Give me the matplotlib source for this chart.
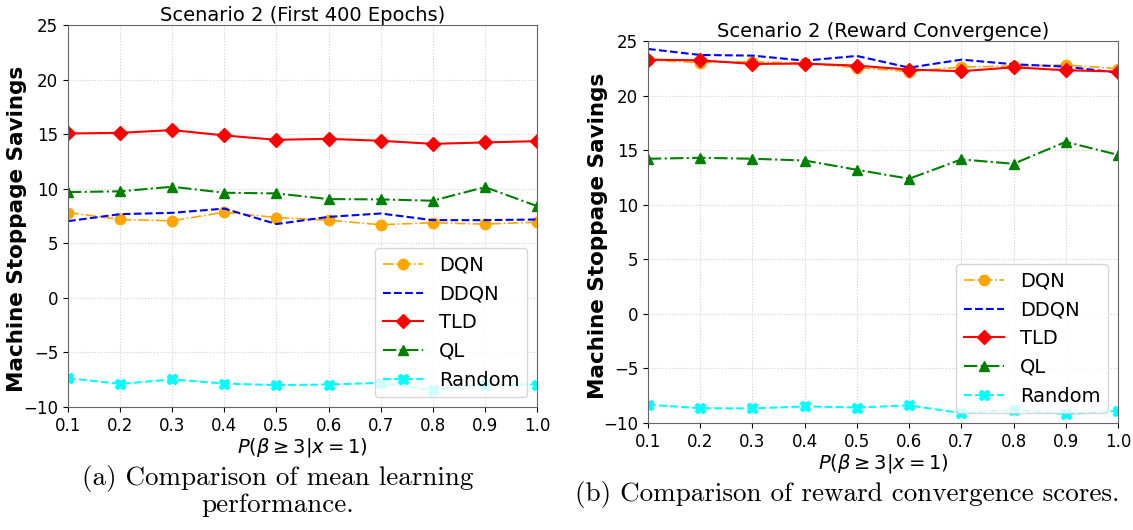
import matplotlib
matplotlib.use("Agg")
import matplotlib.pyplot as plt
import numpy as np

p_vals = [0.1, 0.2, 0.3, 0.4, 0.5, 0.6, 0.7, 0.8, 0.9, 1.0]

# (a) first 400 epochs
dqn_a = [7.82, 7.18, 7.06, 7.85, 7.36, 7.12, 6.70, 6.88, 6.76, 6.94]
ddqn_a = [7.03, 7.67, 7.79, 8.18, 6.76, 7.42, 7.73, 7.12, 7.12, 7.18]
tld_a = [15.06, 15.12, 15.37, 14.88, 14.48, 14.57, 14.39, 14.11, 14.24, 14.36]
ql_a = [9.69, 9.76, 10.18, 9.63, 9.57, 9.05, 9.02, 8.90, 10.15, 8.41]
rand_a = [-7.36, -7.88, -7.48, -7.85, -8.00, -7.94, -7.79, -8.45, -7.94, -7.94]

# (b) reward convergence
dqn_b = [23.26, 23.02, 23.11, 22.96, 22.56, 22.20, 22.62, 22.71, 22.80, 22.47]
ddqn_b = [24.27, 23.72, 23.66, 23.20, 23.63, 22.56, 23.29, 22.87, 22.65, 22.10]
tld_b = [23.29, 23.23, 22.90, 22.93, 22.74, 22.38, 22.23, 22.59, 22.32, 22.20]
ql_b = [14.21, 14.30, 14.21, 14.05, 13.20, 12.38, 14.15, 13.75, 15.76, 14.57]
rand_b = [-8.33, -8.64, -8.67, -8.48, -8.58, -8.39, -9.09, -8.79, -9.18, -8.88]

titles = ["Scenario 2 (First 400 Epochs)", "Scenario 2 (Reward Convergence)"]
captions = ["(a) Comparison of mean learning\nperformance.",
            "(b) Comparison of reward convergence scores."]

W, H = 1133, 530
fig = plt.figure(figsize=(W / 100, H / 100), dpi=100)
boxes = [(68, 25, 537, 407), (648, 41, 1118, 423)]
label_pos = [(-0.087, 0.465), (-0.085, 0.49)]


def draw(ax, dqn, ddqn, tld, ql, rnd, title):
    ax.plot(p_vals, dqn, color="orange", ls="-.", marker="o", ms=7.5, lw=1.2, label="DQN")
    ax.plot(p_vals, ddqn, color="blue", ls="--", lw=1.5, label="DDQN")
    ax.plot(p_vals, tld, color="red", ls="-", marker="D", ms=7.5, lw=1.5, label="TLD")
    ax.plot(p_vals, ql, color="green", ls="-.", marker="^", ms=7.5, lw=1.5, label="QL")
    ax.plot(p_vals, rnd, color="cyan", ls="--", marker="X", ms=7.5, lw=1.5, label="Random")
    ax.set_xlim(0.1, 1.0)
    ax.set_ylim(-10, 25)
    ax.set_xticks(p_vals)
    ax.set_yticks(np.arange(-10, 26, 5))
    ax.tick_params(labelsize=12)
    ax.grid(True, color="#d0d0d0", ls=":", lw=0.8)
    for s in ax.spines.values():
        s.set_color("#666666")
    ax.set_title(title, fontsize=14, pad=3)
    ax.set_xlabel(r"$P(\beta \geq 3 | x = 1)$", fontsize=14, labelpad=1)
    ax.set_ylabel("Machine Stoppage Savings", fontsize=15.5, fontweight="bold")
    ax.legend(loc="lower right", fontsize=14, framealpha=0.8, handlelength=2.1)


data = [(dqn_a, ddqn_a, tld_a, ql_a, rand_a), (dqn_b, ddqn_b, tld_b, ql_b, rand_b)]
for i, (x0, y0, x1, y1) in enumerate(boxes):
    ax = fig.add_axes([x0 / W, 1 - y1 / H, (x1 - x0) / W, (y1 - y0) / H])
    draw(ax, *data[i], titles[i])
    ax.yaxis.set_label_coords(*label_pos[i])

fig.text(278 / W, 1 - 491 / H, captions[0], ha="center", va="center",
         fontsize=19.5, family="cmr10", linespacing=1.07)
fig.text(847 / W, 1 - 495 / H, captions[1], ha="center", va="center",
         fontsize=19.5, family="cmr10")

fig.savefig("out.png", dpi=100)
